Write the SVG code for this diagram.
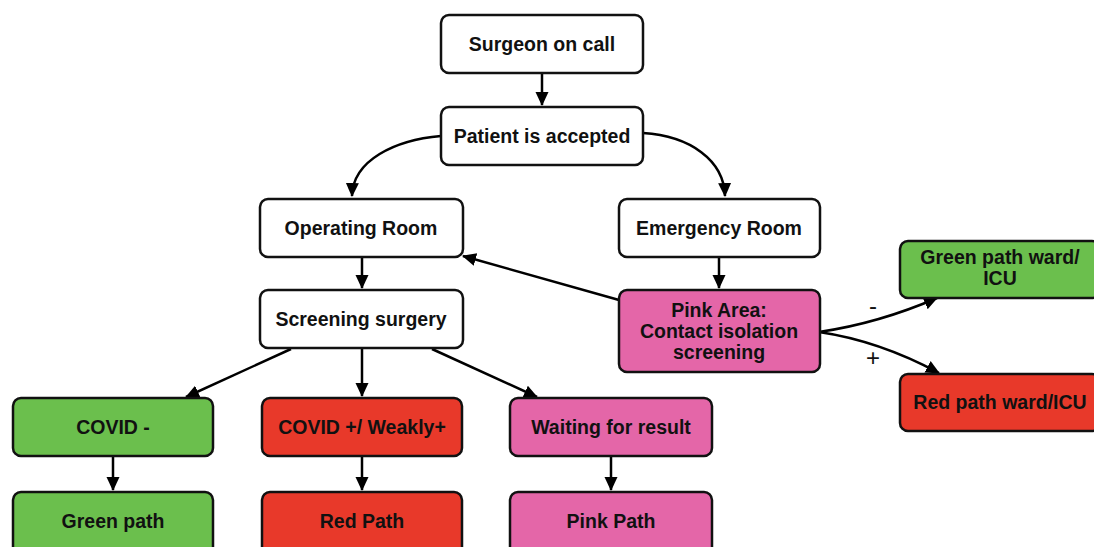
<svg xmlns="http://www.w3.org/2000/svg" width="1094" height="547" viewBox="0 0 1094 547">
<defs>
<marker id="ah" markerWidth="16" markerHeight="16" refX="13" refY="7.5" orient="auto" markerUnits="userSpaceOnUse">
<path d="M0,1 L14,7.5 L0,14 Z" fill="#000"/>
</marker>
<style>
.box{stroke:#111;stroke-width:2.5}
.w{fill:#fff}
.g{fill:#6bbf4d}
.r{fill:#e8392a}
.p{fill:#e466a8}
text{font-family:"Liberation Sans",Arial,Helvetica,sans-serif;font-weight:bold;font-size:19.5px;fill:#111;text-anchor:middle}
.c{fill:none;stroke:#000;stroke-width:2.5;marker-end:url(#ah)}
.lbl{font-size:24px;font-weight:normal}
</style>
</defs>
<rect width="1094" height="547" fill="#fff"/>
<g id="connectors">
<path class="c" d="M542,74 L542,105"/>
<path class="c" d="M441,136 C395,140 353,160 352,196"/>
<path class="c" d="M643,133 C690,136 724,160 725,196"/>
<path class="c" d="M362,258 L362,288"/>
<path class="c" d="M719,258 L719,288"/>
<path class="c" d="M619,300 L463,256"/>
<path class="c" d="M291,349 L186,397"/>
<path class="c" d="M362,349 L362,396"/>
<path class="c" d="M432,349 L537,397"/>
<path class="c" d="M819,332 C860,326 900,314 937,298"/>
<path class="c" d="M819,332 C860,338 900,352 939,373"/>
<path class="c" d="M113,457 L113,490"/>
<path class="c" d="M362,457 L362,490"/>
<path class="c" d="M611,457 L611,490"/>
<text class="lbl" x="873" y="314">-</text>
<text class="lbl" x="873" y="366">+</text>
</g>
<g id="surgeon"><rect class="box w" x="441" y="15" width="202" height="58" rx="8"/><text x="542" y="51">Surgeon on call</text></g>
<g id="patient"><rect class="box w" x="441" y="107" width="202" height="58" rx="8"/><text x="542" y="143">Patient is accepted</text></g>
<g id="operating"><rect class="box w" x="260" y="199" width="203" height="58" rx="8"/><text x="361" y="235">Operating Room</text></g>
<g id="emergency"><rect class="box w" x="619" y="199" width="201" height="58" rx="8"/><text x="719" y="235">Emergency Room</text></g>
<g id="screening"><rect class="box w" x="260" y="290" width="203" height="58" rx="8"/><text x="361" y="326">Screening surgery</text></g>
<g id="pinkarea"><rect class="box p" x="619" y="290" width="201" height="82" rx="8"/><text x="719" y="317">Pink Area:</text><text x="719" y="338">Contact isolation</text><text x="719" y="359">screening</text></g>
<g id="greenward"><rect class="box g" x="900" y="241" width="200" height="57" rx="8"/><text x="1000" y="264">Green path ward/</text><text x="1000" y="285">ICU</text></g>
<g id="redward"><rect class="box r" x="900" y="374" width="200" height="57" rx="8"/><text x="1000" y="409">Red path ward/ICU</text></g>
<g id="covidneg"><rect class="box g" x="13" y="398" width="200" height="58" rx="8"/><text x="113" y="434">COVID -</text></g>
<g id="covidpos"><rect class="box r" x="262" y="398" width="200" height="58" rx="8"/><text x="362" y="434">COVID +/ Weakly+</text></g>
<g id="waiting"><rect class="box p" x="510" y="398" width="202" height="58" rx="8"/><text x="611" y="434">Waiting for result</text></g>
<g id="greenpath"><rect class="box g" x="13" y="492" width="200" height="70" rx="8"/><text x="113" y="528">Green path</text></g>
<g id="redpath"><rect class="box r" x="262" y="492" width="200" height="70" rx="8"/><text x="362" y="528">Red Path</text></g>
<g id="pinkpath"><rect class="box p" x="510" y="492" width="202" height="70" rx="8"/><text x="611" y="528">Pink Path</text></g>
</svg>
